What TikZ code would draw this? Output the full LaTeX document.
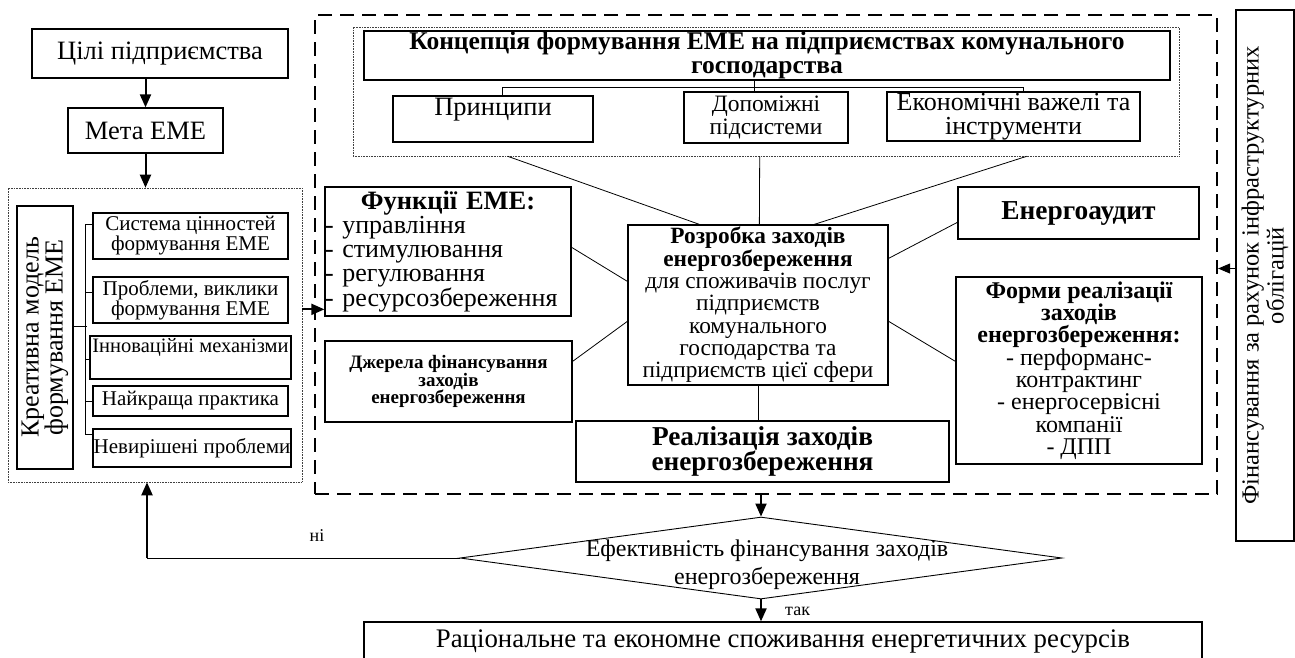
\documentclass[tikz,border=0pt]{standalone}
\usepackage{fontspec}
\setmainfont{Liberation Serif}
\usetikzlibrary{arrows.meta,shapes.geometric}
\newcommand\fs[2]{\fontsize{#1}{#2}\selectfont}
\tikzset{
 box/.style={draw, line width=1.3pt, inner sep=0pt, align=center},
 dotbox/.style={draw=black!75, line width=0.6pt, dash pattern=on 0.8pt off 0.8pt},
 dashbox/.style={draw, line width=2.2pt, dash pattern=on 14pt off 8pt},
 conn/.style={line width=0.8pt},
 arr/.style={line width=2pt, -{Triangle[length=13pt,width=11pt]}},
 tarr/.style={line width=0.9pt, -{Triangle[length=12pt,width=10pt]}},
 lbl/.style={font=\fs{18}{18}, inner sep=0pt},
}
\newcommand\mybox[6][]{\node[box,#1,minimum width={(#5)-(#3)},minimum height={(#6)-(#4)}] (#2) at ({((#3)+(#5))/2},{((#4)+(#6))/2})}
\begin{document}
\begin{tikzpicture}[x=1pt,y=-1pt]
\useasboundingbox[fill=white] (0,0) rectangle (1295,657);
% frames
\mybox[dashbox,draw]{main}{315}{15}{1217}{494}{};
\mybox[dotbox]{conc}{353}{27}{1179}{156}{};
\mybox[dotbox]{lgrp}{8}{188}{302}{482}{};
% left column
\mybox[font=\fs{26.5}{26}]{cili}{32}{29}{288}{78}{Цілі підприємства};
\mybox[font=\fs{26.5}{26}]{meta}{68}{108}{223}{153}{Мета ЕМЕ};
\node[box, rotate=90, minimum width=263, minimum height=56, font=\fs{26}{24}] (kreat) at (45,337.5) {Креативна модель\\формування ЕМЕ};
\mybox[font=\fs{21}{20}]{sys}{93}{213}{288}{259}{Система цінностей\\формування ЕМЕ};
\mybox[font=\fs{21}{20}]{prob}{93}{277}{288}{323}{Проблеми, виклики\\формування ЕМЕ};
\mybox[font=\fs{20.5}{20}, text height=15pt, text depth=26pt]{inno}{90}{336}{291}{379}{Інноваційні механізми};
\mybox[font=\fs{21}{20}]{best}{93}{386}{288}{416}{Найкраща практика};
\mybox[font=\fs{21}{20}]{unres}{93}{429}{291}{467}{Невирішені проблеми};
% concept
\mybox[font=\bfseries\fs{25.5}{24}]{title}{364}{31}{1170}{80}{Концепція формування ЕМЕ на підприємствах комунального\\господарства};
\mybox[font=\fs{26.5}{24}, text height=18pt, text depth=26pt]{prin}{393}{96}{593}{142}{Принципи};
\mybox[font=\fs{23.5}{23}]{dop}{684}{92}{848}{143}{Допоміжні\\підсистеми};
\mybox[font=\fs{26}{24.5}]{econ}{887}{92}{1140}{141}{Економічні важелі та\\інструменти};
% middle
\mybox[font=\fs{26}{24}, align=left, text width=246pt]{func}{325}{187}{571}{316}{\makebox[246pt]{\bfseries\fs{26.5}{24}Функції ЕМЕ:}\\- управління\\- стимулювання\\- регулювання\\- ресурсозбереження};
\mybox[font=\bfseries\fs{19}{17.5}]{dzh}{325}{341}{572}{422}{Джерела фінансування\\заходів\\енергозбереження};
\mybox[font=\fs{23.3}{22.3}]{dev}{628}{225}{888}{385}{{\bfseries Розробка заходів}\\{\bfseries енергозбереження}\\для споживачів послуг\\підприємств\\комунального\\господарства та\\підприємств цієї сфери};
\mybox[font=\bfseries\fs{27.4}{24}]{audit}{958}{187}{1199}{239}{Енергоаудит};
\mybox[font=\fs{24}{22.3}]{form}{956}{277}{1202}{464}{{\bfseries Форми реалізації}\\{\bfseries заходів}\\{\bfseries енергозбереження:}\\- перформанс-\\контрактинг\\- енергосервісні\\компанії\\- ДПП};
\mybox[font=\bfseries\fs{27.3}{23.5}]{real}{576}{421}{949}{482}{Реалізація заходів\\енергозбереження};
% right
\node[box, rotate=90, minimum width=531, minimum height=58, font=\fs{24.5}{25}] (fin) at (1265,275.5) {Фінансування за рахунок інфраструктурних\\облігацій};
% bottom
\node[draw, diamond, line width=0.9pt, inner sep=0pt, minimum width=602, minimum height=82] (eff) at (761,558) {};
\node[align=center, inner sep=0pt, font=\fs{24}{28}] (efftxt) at (767,565) {Ефективність фінансування заходів\\енергозбереження};
\mybox[font=\fs{26.8}{26}]{rat}{364}{622}{1202}{661}{Раціональне та економне споживання енергетичних ресурсів};
% connectors: left bracket
\draw[conn] ([yshift=11.5pt]kreat.south) -- ++(13,0);
\draw[conn] ([yshift=-12pt]sys.north west) -- ++(-7,0) coordinate (s1);
\draw[conn] ([yshift=-16pt]prob.north west) -- ++(-7,0);
\draw[conn] ([yshift=-24pt]inno.north west) -- ++(-4,0);
\draw[conn] ([yshift=-16pt]best.north west) -- ++(-7,0);
\draw[conn] ([yshift=-6pt]unres.north west) -- ++(-7,0) coordinate (s5);
\draw[conn] (s1) -- (s5);
% concept tree
\coordinate (busL) at (502,87);
\coordinate (busM) at (754,87);
\coordinate (busR) at (1023,87);
\draw[conn] (busM |- title.south) -- (busM |- dop.north);
\draw[conn] (busL |- prin.north) -- (busL) -- (busR) -- (busR |- econ.north);
% to development box
\draw[conn] ([xshift=155pt]conc.south west) -- ([xshift=72pt]dev.north west);
\draw[conn] ([xshift=407pt]conc.south west) -- ([xshift=132pt]dev.north west);
\draw[conn] ([xshift=674pt]conc.south west) -- ([xshift=187pt]dev.north west);
\draw[conn] ([yshift=-61pt]func.north east) -- ([yshift=-57pt]dev.north west);
\draw[conn] ([yshift=-21pt]dzh.north east) -- ([yshift=-97pt]dev.north west);
\draw[conn] ([yshift=-34pt]dev.north east) -- ([yshift=-36pt]audit.north west);
\draw[conn] ([yshift=-97pt]dev.north east) -- ([yshift=-85pt]form.north west);
\draw[conn] (dev.south) -- (dev.south |- real.north);
% arrows
\draw[arr] (cili.south -| meta.north) -- (meta.north);
\draw[arr] (meta.south) -- (meta.south |- lgrp.north);
\coordinate (fa) at ([yshift=-123pt]func.north west);
\draw[arr] (lgrp.east |- fa) -- (fa);
\draw[arr] (main.south -| eff.north) -- (eff.north);
\draw[arr] (eff.south) -- (eff.south |- rat.north);
\node[lbl, anchor=west] (tak) at ([xshift=24pt,yshift=-12pt]eff.south) {так};
\coordinate (corner) at ([xshift=-8pt]lgrp.south |- eff.west);
\draw[conn] (eff.west) -- (corner);
\draw[arr] (corner) -- (corner |- lgrp.south);
\node[lbl] (ni) at (317,536) {ні};
\coordinate (fb) at ([yshift=7pt]fin.north);
\draw[tarr] (fb) -- (main.east |- fb);
\end{tikzpicture}
\end{document}
